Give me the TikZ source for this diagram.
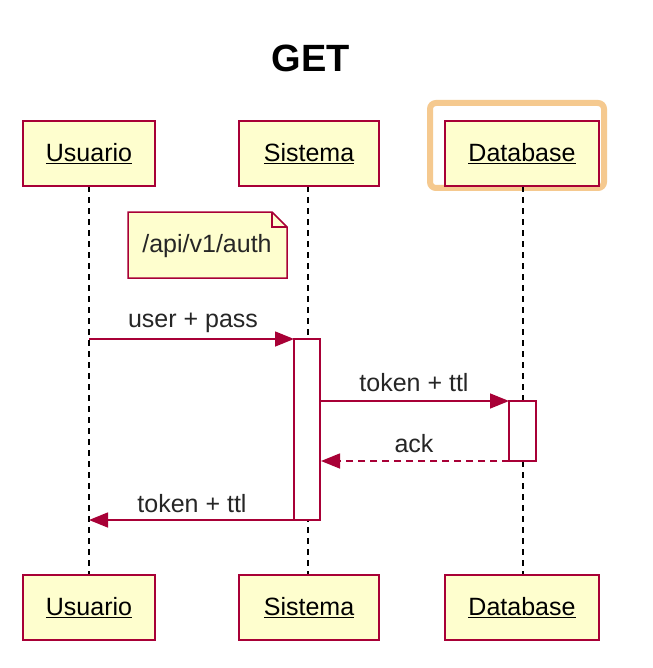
\documentclass[tikz,border=0pt]{standalone}
\usepackage{fontspec}
\setmainfont{Liberation Sans}
\usetikzlibrary{arrows.meta,shapes.misc}
\definecolor{pborder}{HTML}{A80036}
\definecolor{pfill}{HTML}{FEFECE}
\definecolor{hilite}{HTML}{F5C98F}
\begin{document}
\begin{tikzpicture}[x=1pt,y=-1pt,
  part/.style={draw=pborder,fill=pfill,line width=1.5pt,minimum height=65pt,inner sep=0pt,font=\fontsize{25}{30}\selectfont},
  lifeline/.style={draw=black,line width=1.3pt,dash pattern=on 6pt off 5pt},
  msg/.style={draw=pborder,line width=1.5pt,-{Triangle[length=19pt,width=15pt]}},
  reply/.style={msg,dash pattern=on 7pt off 5pt},
  lbl/.style={font=\fontsize{25}{30}\selectfont,text=black!85,inner sep=0pt},
  actbar/.style={draw=pborder,fill=white,line width=1.5pt,outer sep=0pt}]
\useasboundingbox (0,0) rectangle (652,668);
\fill[white] (0,0) rectangle (652,668);
% title
\node (title) at (311,58) {\fontsize{38}{44}\selectfont\bfseries GET};
% highlight
\draw[hilite,line width=6pt,rounded corners=6pt] (430,103) rectangle (604,188);
% lifelines
\coordinate (uT) at (89,186); \coordinate (uB) at (89,575);
\coordinate (sT) at (308,186); \coordinate (sB) at (308,575);
\coordinate (dT) at (523,186); \coordinate (dB) at (523,575);
\draw[lifeline] (uT) -- (uB);
\draw[lifeline] (sT) -- (sB);
\draw[lifeline] (dT) -- (dB);
% participants top
\node[part,minimum width=132pt] (u1) at (89,153.5) {\underline{Usuario}};
\node[part,minimum width=140pt] (s1) at (309,153.5) {\underline{Sistema}};
\node[part,minimum width=154pt] (d1) at (522,153.5) {\underline{Database}};
% participants bottom
\node[part,minimum width=132pt] (u2) at (89,607.5) {\underline{Usuario}};
\node[part,minimum width=140pt] (s2) at (309,607.5) {\underline{Sistema}};
\node[part,minimum width=154pt] (d2) at (522,607.5) {\underline{Database}};
% note
\draw[draw=pborder,fill=pfill,line width=1.5pt] (128,212) -- (272,212) -- (287,227) -- (287,278) -- (128,278) -- cycle;
\draw[draw=pborder,line width=1.5pt] (272,212) -- (272,227) -- (287,227);
\node[lbl] (note) at (207,246) {/api/v1/auth};
% activation bars
\node[actbar,minimum width=26pt,minimum height=181pt,inner sep=0pt,anchor=north] (sa) at (307,339) {};
\node[actbar,minimum width=27pt,minimum height=60pt,inner sep=0pt,anchor=north] (da) at (522.5,401) {};
% messages
\coordinate (m1s) at (89,339);
\draw[msg] (m1s |- sa.north) -- (sa.north west);
\node[lbl] (l1) at (193,323) {user + pass};
\coordinate (m2s) at (sa.east |- da.north);
\draw[msg] (m2s) -- (da.north west);
\node[lbl] (l2) at (414,383) {token + ttl};
\coordinate (m3e) at (sa.east |- da.south);
\draw[reply] (da.south west) -- ([xshift=1pt]m3e);
\node[lbl] (l3) at (414,444) {ack};
\coordinate (m4e) at (89,520);
\draw[msg] (sa.south west) -- (m4e |- sa.south);
\node[lbl] (l4) at (192,504) {token + ttl};
\end{tikzpicture}
\end{document}
